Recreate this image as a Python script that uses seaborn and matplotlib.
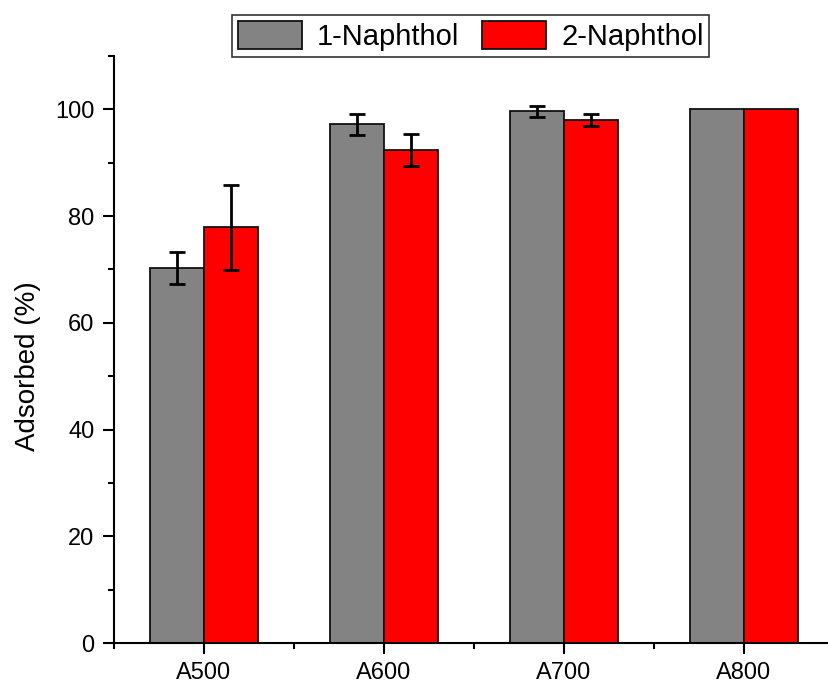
import matplotlib
matplotlib.use("Agg")
import matplotlib.pyplot as plt
import seaborn as sns
import pandas as pd
from matplotlib.ticker import FixedLocator, MultipleLocator

# ---- data ----
samples = ["A500", "A600", "A700", "A800"]
naphthol1 = [70.2, 97.2, 99.6, 100.0]
naphthol1_err = [3.0, 2.0, 1.05, 0.0]
naphthol2 = [77.9, 92.4, 98.0, 100.0]
naphthol2_err = [8.0, 3.05, 1.05, 0.0]
series_names = ["1-Naphthol", "2-Naphthol"]
colors = ["#838383", "#ff0000"]

df = pd.DataFrame({
    "sample": samples * 2,
    "value": naphthol1 + naphthol2,
    "err": naphthol1_err + naphthol2_err,
    "compound": [series_names[0]] * 4 + [series_names[1]] * 4,
})

sns.set_theme(style="ticks")
plt.rcParams["font.family"] = ["Liberation Sans", "DejaVu Sans"]
plt.rcParams["text.color"] = "black"
plt.rcParams["axes.labelcolor"] = "black"
plt.rcParams["xtick.color"] = "black"
plt.rcParams["ytick.color"] = "black"

W, H = 829, 686
fig = plt.figure(figsize=(W / 100, H / 100), dpi=100)
ax = fig.add_axes([114 / W, (H - 643) / H, 720 / W, (643 - 56) / H])

sns.barplot(data=df, x="sample", y="value", hue="compound", order=samples,
            hue_order=series_names, palette=colors, width=0.6,
            edgecolor="#111111", linewidth=1.3, errorbar=None,
            saturation=1, ax=ax)

# error bars at bar centers
for name, cont in zip(series_names, ax.containers):
    sub = df[df["compound"] == name].set_index("sample").loc[samples]
    xs = [p.get_x() + p.get_width() / 2 for p in cont.patches]
    tops = [p.get_height() for p in cont.patches]
    errs = list(sub["err"])
    xe = [x for x, e in zip(xs, errs) if e > 0]
    ye = [t for t, e in zip(tops, errs) if e > 0]
    ee = [e for e in errs if e > 0]
    ax.errorbar(xe, ye, yerr=ee, fmt="none", ecolor="black", elinewidth=2,
                capsize=5.5, capthick=2, zorder=5)

ax.set_xlim(-0.5, 3.5)
ax.set_ylim(0, 110)
ax.yaxis.set_major_locator(MultipleLocator(20))
ax.yaxis.set_minor_locator(FixedLocator([10, 30, 50, 70, 90, 110]))
ax.xaxis.set_minor_locator(FixedLocator([-0.5, 0.5, 1.5, 2.5, 3.5]))

ax.set_xlabel("")
ax.set_ylabel("Adsorbed (%)", fontsize=20, color="black")
ax.yaxis.set_label_coords(-0.102, 0.472)
ax.tick_params(axis="both", which="major", length=8, width=1.5,
               labelsize=17, pad=6, color="black", labelcolor="black",
               direction="out")
ax.tick_params(axis="both", which="minor", length=4.5, width=1.5,
               color="black", direction="out")

for s in ["top", "right"]:
    ax.spines[s].set_visible(False)
for s in ["left", "bottom"]:
    ax.spines[s].set_linewidth(1.5)
    ax.spines[s].set_color("black")

leg = ax.legend(loc="upper left", bbox_to_anchor=(232 / W, 1 - 15 / H),
                bbox_transform=fig.transFigure, borderaxespad=0,
                ncol=2, fontsize=21, frameon=True, fancybox=False,
                edgecolor="black", handlelength=2.2, handleheight=1.1,
                handletextpad=0.5, columnspacing=0.8, borderpad=0.2,
                title=None)
leg.get_frame().set_linewidth(1.2)
for t in leg.get_texts():
    t.set_color("black")
for h in leg.legend_handles:
    h.set_edgecolor("#111111")
    h.set_linewidth(1.3)

fig.savefig("out.png", dpi=100)
